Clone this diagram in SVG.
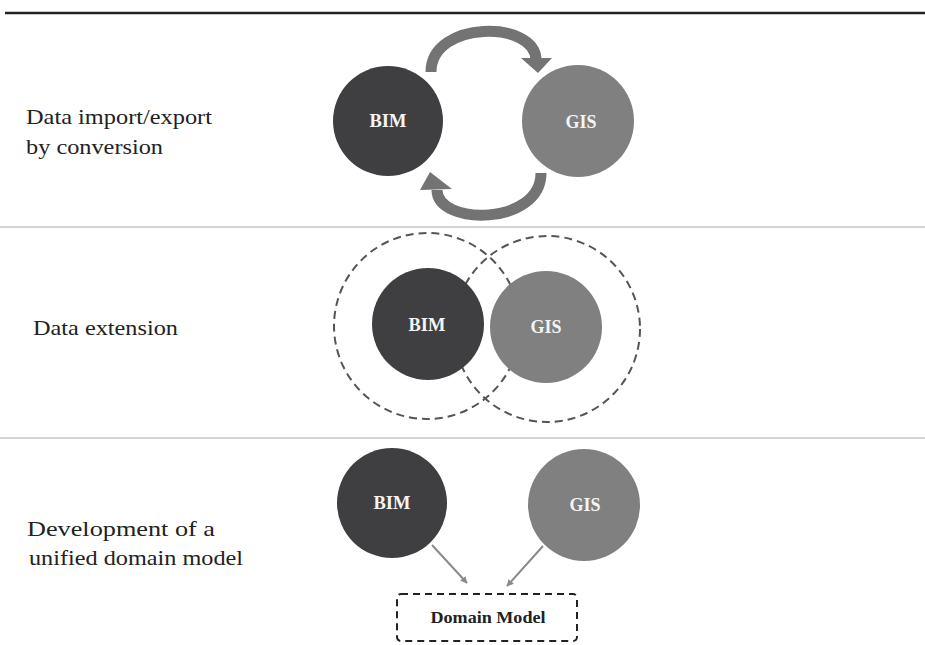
<svg xmlns="http://www.w3.org/2000/svg" width="925" height="645" viewBox="0 0 925 645">
<style>
.lbl{font-family:"Liberation Serif","Times New Roman","DejaVu Serif",serif;font-size:22px;fill:#222}
.ct{font-family:"Liberation Serif","Times New Roman","DejaVu Serif",serif;font-size:18px;font-weight:bold;fill:#f4f4f4;text-anchor:middle}
.bim{fill:#3f3f41}
.gis{fill:#808080}
.dc{fill:none;stroke:#555;stroke-width:2;stroke-dasharray:8 5}
.conv{fill:none;stroke:#737373;stroke-width:11}
.ah{fill:#737373}
.ln{stroke:#8a8a8a;stroke-width:2;fill:none}
.dm{font-family:"Liberation Serif","Times New Roman","DejaVu Serif",serif;font-size:16px;font-weight:bold;fill:#222;text-anchor:middle}
</style>
<defs>
<marker id="arr" viewBox="0 0 10 10" refX="9" refY="5" markerWidth="7" markerHeight="7" orient="auto" markerUnits="userSpaceOnUse">
<path d="M0,0 L10,5 L0,10 z" fill="#8a8a8a"/>
</marker>
</defs>
<rect width="925" height="645" fill="#ffffff"/>
<line x1="5" y1="13" x2="925" y2="13" stroke="#222" stroke-width="2.5"/>
<line x1="0" y1="227" x2="925" y2="227" stroke="#c4c4c4" stroke-width="1.5"/>
<line x1="0" y1="438" x2="925" y2="438" stroke="#c4c4c4" stroke-width="1.5"/>

<g id="labels">
<text class="lbl" x="26" y="124" textLength="186" lengthAdjust="spacingAndGlyphs">Data import/export</text>
<text class="lbl" x="26" y="154" textLength="137" lengthAdjust="spacingAndGlyphs">by conversion</text>
<text class="lbl" x="33" y="335" textLength="145" lengthAdjust="spacingAndGlyphs">Data extension</text>
<text class="lbl" x="27" y="536" textLength="188" lengthAdjust="spacingAndGlyphs">Development of a</text>
<text class="lbl" x="29" y="565" textLength="214" lengthAdjust="spacingAndGlyphs">unified domain model</text>
</g>

<g id="connectors">
<path class="conv" d="M431,72 C431,20 536,20 536,60"/>
<polygon class="ah" points="521,58 552,58 538,73"/>
<path class="conv" d="M541,173 C541,226 437,226 437,190"/>
<polygon class="ah" points="430,172 420,190 452,189"/>
<line class="ln" x1="432" y1="545" x2="467" y2="583" marker-end="url(#arr)"/>
<line class="ln" x1="543" y1="546" x2="507" y2="586" marker-end="url(#arr)"/>
</g>

<g id="bim1"><circle class="bim" cx="388" cy="121" r="55"/><text class="ct" x="388" y="127" textLength="37" lengthAdjust="spacingAndGlyphs">BIM</text></g>
<g id="gis1"><circle class="gis" cx="578" cy="121" r="56"/><text class="ct" x="581" y="128" textLength="31" lengthAdjust="spacingAndGlyphs">GIS</text></g>

<g id="ext-bim"><circle class="dc" cx="427" cy="326" r="93"/></g>
<g id="ext-gis"><circle class="dc" cx="547" cy="329" r="93"/></g>
<g id="bim2"><circle class="bim" cx="428" cy="324" r="56"/><text class="ct" x="427" y="331" textLength="37" lengthAdjust="spacingAndGlyphs">BIM</text></g>
<g id="gis2"><circle class="gis" cx="546" cy="327" r="56"/><text class="ct" x="546" y="333" textLength="31" lengthAdjust="spacingAndGlyphs">GIS</text></g>

<g id="bim3"><circle class="bim" cx="392" cy="503" r="55"/><text class="ct" x="392" y="509" textLength="37" lengthAdjust="spacingAndGlyphs">BIM</text></g>
<g id="gis3"><circle class="gis" cx="584" cy="505" r="56"/><text class="ct" x="585" y="511" textLength="31" lengthAdjust="spacingAndGlyphs">GIS</text></g>

<g id="domain">
<rect x="397" y="594" width="180" height="47" rx="4" fill="none" stroke="#222" stroke-width="2" stroke-dasharray="7 5"/>
<text class="dm" x="488" y="623" textLength="115" lengthAdjust="spacingAndGlyphs">Domain Model</text>
</g>
</svg>
